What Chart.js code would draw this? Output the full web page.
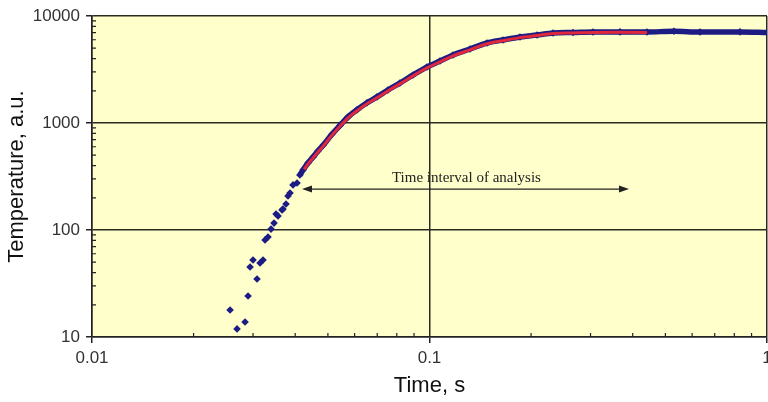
<!DOCTYPE html>
<html>
<head>
<meta charset="utf-8">
<title>Temperature vs time</title>
<script src="https://cdn.jsdelivr.net/npm/chart.js@4.4.1/dist/chart.umd.min.js"></script>
<style>
  html, body { margin: 0; padding: 0; background: #fff; }
  #wrap { width: 768px; height: 402px; }
</style>
</head>
<body>
<div id="wrap"><canvas id="tempChart" width="768" height="402"></canvas></div>
<script>
// early measured points, before the analysis window
const timeEarly = [0.02565, 0.0269, 0.02841, 0.029, 0.0294, 0.030, 0.03083, 0.03147, 0.03212, 0.03256,
                   0.03323, 0.03392, 0.03462, 0.0351, 0.03558, 0.03656, 0.0368, 0.03757, 0.03808, 0.03861,
                   0.03941, 0.0405];
const tempEarly = [17.9, 11.9, 13.8, 24.2, 45.1, 52.5, 34.8, 49.2, 52.5, 80.7,
                   86, 102, 116, 141, 135, 154, 157, 175, 208, 222,
                   264, 275];

// measured points along the rise and the plateau
const timeMeasured = [0.0413, 0.0422, 0.04365, 0.0452, 0.04673, 0.0484, 0.0514, 0.0543, 0.0573, 0.0610,
                      0.0653, 0.0699, 0.0753, 0.0817, 0.0894, 0.0983, 0.1074, 0.1174, 0.1318, 0.148,
                      0.1651, 0.1854, 0.2083, 0.2323, 0.2663, 0.3051, 0.3667, 0.441, 0.53, 0.633,
                      0.8318, 1.0];
const tempMeasured = [327, 364, 423, 481, 547, 620, 785, 950, 1135, 1330,
                      1545, 1755, 2034, 2364, 2810, 3337, 3797, 4320, 4918, 5595,
                      5970, 6363, 6643, 6937, 7010, 7087, 7100, 7090, 7200, 7080,
                      7100, 7020];

// fitted curve over the analysis window
const timeFit = [0.0425, 0.04365, 0.0452, 0.04673, 0.0484, 0.0514, 0.0543, 0.0573, 0.0610, 0.0653,
                 0.0699, 0.0753, 0.0817, 0.0894, 0.0983, 0.1074, 0.1174, 0.1318, 0.148, 0.1651,
                 0.1854, 0.2083, 0.2323, 0.2663, 0.3051, 0.3667, 0.441];
const tempFit = [368, 414, 471, 536, 607, 768, 932, 1112, 1303, 1515,
                 1720, 1995, 2320, 2755, 3270, 3725, 4240, 4830, 5500, 5880,
                 6280, 6570, 6860, 6950, 7030, 7040, 7030];

const timeTicks = [0.01, 0.1, 1];
const tempTicks = [10, 100, 1000, 10000];

// arrow marking the analysis window
const arrowTimes = [0.0419, 0.39];
const arrowTemp = 241;
const noteText = 'Time interval of analysis';
const noteTime = 0.0774;
const noteTemp = 281;

const NAVY = '#1c1c84';
const RED = '#e0283c';
const INK = '#222';
const sans = '"Liberation Sans", Arial, sans-serif';

const toPoints = (xs, ys) => xs.map((x, i) => ({ x: x, y: ys[i] }));

const plotBackground = {
    id: 'plotBackground',
    beforeDraw(chart) {
        const { ctx, chartArea: a } = chart;
        ctx.save();
        ctx.fillStyle = '#ffffcc';
        ctx.fillRect(a.left, a.top, a.right - a.left, a.bottom - a.top);
        ctx.restore();
    }
};

// short inside ticks at 2..9 of every decade
const minorTicks = {
    id: 'minorTicks',
    afterDraw(chart) {
        const { ctx, chartArea: a, scales } = chart;
        ctx.save();
        ctx.strokeStyle = INK;
        ctx.lineWidth = 1.2;
        ctx.beginPath();
        for (let d = -2; d < 0; d++) {
            for (let k = 2; k <= 9; k++) {
                const px = scales.x.getPixelForValue(k * Math.pow(10, d));
                ctx.moveTo(px, a.bottom);
                ctx.lineTo(px, a.bottom - 4);
            }
        }
        for (let d = 1; d < 4; d++) {
            for (let k = 2; k <= 9; k++) {
                const py = scales.y.getPixelForValue(k * Math.pow(10, d));
                ctx.moveTo(a.left, py);
                ctx.lineTo(a.left + 4, py);
            }
        }
        ctx.stroke();
        ctx.restore();
    }
};

const intervalNote = {
    id: 'intervalNote',
    afterDatasetsDraw(chart) {
        const { ctx, scales: { x, y } } = chart;
        const x0 = x.getPixelForValue(arrowTimes[0]);
        const x1 = x.getPixelForValue(arrowTimes[1]);
        const yy = y.getPixelForValue(arrowTemp);
        ctx.save();
        ctx.strokeStyle = INK;
        ctx.fillStyle = INK;
        ctx.lineWidth = 1.2;
        ctx.beginPath();
        ctx.moveTo(x0 + 4, yy);
        ctx.lineTo(x1 - 4, yy);
        ctx.stroke();
        [[x0, 1], [x1, -1]].forEach(([tip, dir]) => {
            ctx.beginPath();
            ctx.moveTo(tip, yy);
            ctx.lineTo(tip + dir * 10, yy - 3.5);
            ctx.lineTo(tip + dir * 10, yy + 3.5);
            ctx.closePath();
            ctx.fill();
        });
        ctx.font = '15px "Liberation Serif", "Times New Roman", serif';
        ctx.textAlign = 'left';
        ctx.textBaseline = 'alphabetic';
        ctx.fillText(noteText, x.getPixelForValue(noteTime), y.getPixelForValue(noteTemp));
        ctx.restore();
    }
};

new Chart(document.getElementById('tempChart'), {
    type: 'scatter',
    data: {
        datasets: [
            {
                label: 'Fit',
                data: toPoints(timeFit, tempFit),
                showLine: true,
                borderColor: RED,
                borderWidth: 3,
                pointRadius: 0,
                cubicInterpolationMode: 'monotone',
                order: 0
            },
            {
                label: 'Measured',
                data: toPoints(timeMeasured, tempMeasured),
                showLine: true,
                borderColor: NAVY,
                backgroundColor: NAVY,
                borderWidth: 5.5,
                pointStyle: 'rectRot',
                pointRadius: 3.8,
                pointBorderWidth: 0,
                cubicInterpolationMode: 'monotone',
                order: 1
            },
            {
                label: 'Measured (early)',
                data: toPoints(timeEarly, tempEarly),
                showLine: false,
                backgroundColor: NAVY,
                borderColor: NAVY,
                pointStyle: 'rectRot',
                pointRadius: 3.8,
                pointBorderWidth: 0,
                order: 2
            }
        ]
    },
    options: {
        responsive: false,
        animation: false,
        devicePixelRatio: 1,
        layout: { autoPadding: false, padding: { top: 16, right: 1, left: 0, bottom: 0 } },
        plugins: {
            legend: { display: false },
            tooltip: { enabled: false }
        },
        scales: {
            x: {
                type: 'logarithmic',
                position: 'bottom',
                min: 0.01,
                max: 1,
                afterBuildTicks: s => { s.ticks = timeTicks.map(v => ({ value: v, major: true })); },
                afterFit: s => { s.height = 65; s.paddingLeft = 0; s.paddingRight = 0; },
                grid: { color: '#2b2b22', lineWidth: 1.5, tickLength: 6, tickColor: INK },
                border: { color: INK, width: 1.5 },
                ticks: {
                    autoSkip: false,
                    maxRotation: 0,
                    padding: 5,
                    color: '#333',
                    font: { family: sans, size: 17 },
                    callback: v => String(v)
                },
                title: {
                    display: true,
                    text: 'Time, s',
                    color: '#111',
                    font: { family: sans, size: 22 },
                    padding: { top: 0, bottom: 3 }
                }
            },
            y: {
                type: 'logarithmic',
                position: 'left',
                min: 10,
                max: 10000,
                afterBuildTicks: s => { s.ticks = tempTicks.map(v => ({ value: v, major: true })); },
                afterFit: s => { s.width = 92; s.paddingTop = 0; s.paddingBottom = 0; },
                grid: { color: '#2b2b22', lineWidth: 1.5, tickLength: 6, tickColor: INK },
                border: { color: INK, width: 1.5 },
                ticks: {
                    autoSkip: false,
                    padding: 6,
                    color: '#333',
                    font: { family: sans, size: 17 },
                    callback: v => String(v)
                },
                title: {
                    display: true,
                    text: 'Temperature, a.u.',
                    color: '#111',
                    font: { family: sans, size: 22 },
                    padding: { top: 4, bottom: 0 }
                }
            }
        }
    },
    plugins: [plotBackground, minorTicks, intervalNote]
});
</script>
</body>
</html>
